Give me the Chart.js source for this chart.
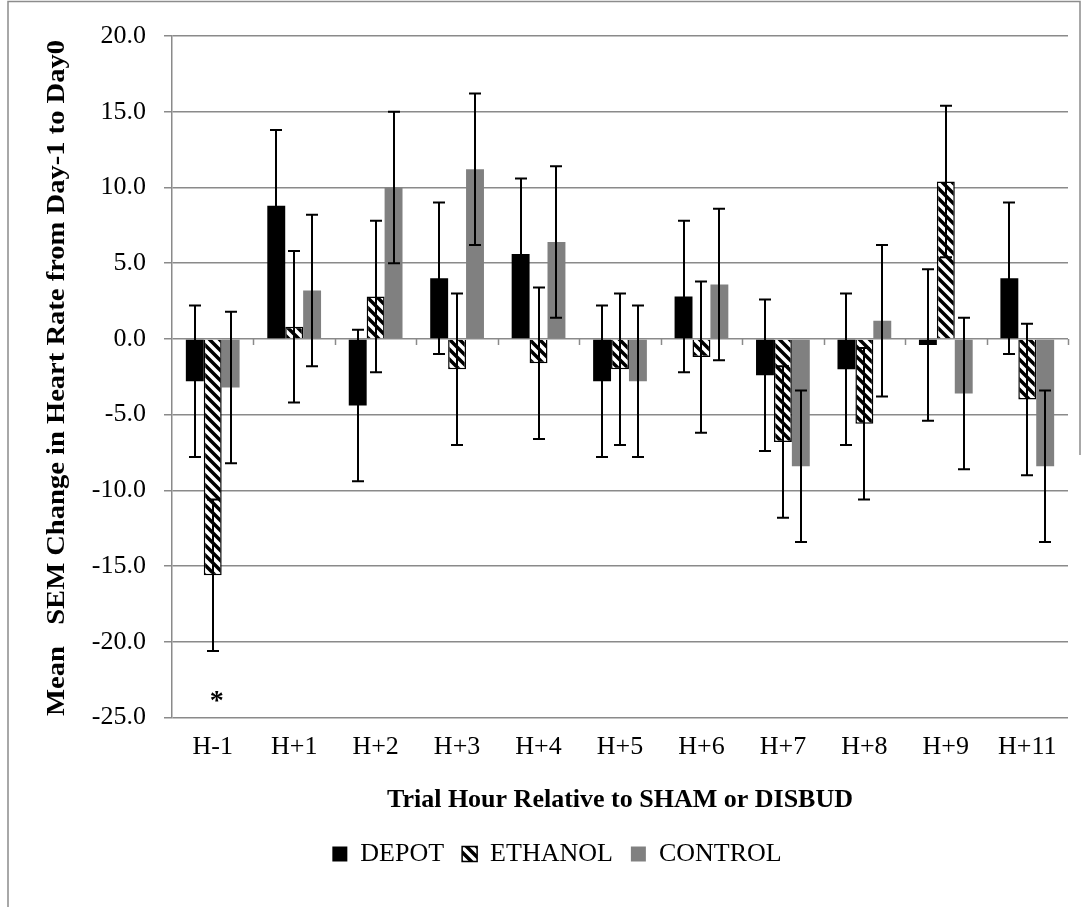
<!DOCTYPE html>
<html>
<head>
<meta charset="utf-8">
<script src="https://cdn.jsdelivr.net/npm/chart.js@4.4.1/dist/chart.umd.min.js"></script>
<style>
  html, body { margin: 0; padding: 0; background: #fff; }
  #wrap { width: 1086px; height: 907px; position: relative; }
</style>
</head>
<body>
<div id="wrap"><canvas id="myChart"></canvas></div>
<script>
// data
const hours = ['H-1', 'H+1', 'H+2', 'H+3', 'H+4', 'H+5', 'H+6', 'H+7', 'H+8', 'H+9', 'H+11'];
const depot   = [-2.8, 8.8, -4.4, 4.0, 5.6, -2.8, 2.8, -2.4, -2.0, -0.4, 4.0];
const ethanol = [-15.6, 0.8, 2.8, -2.0, -1.6, -2.0, -1.2, -6.8, -5.6, 10.4, -4.0];
const control = [-3.2, 3.2, 10.0, 11.2, 6.4, -2.8, 3.6, -8.4, 1.2, -3.6, -8.4];
const depotSem   = [5.0, 5.0, 5.0, 5.0, 5.0, 5.0, 5.0, 5.0, 5.0, 5.0, 5.0];
const ethanolSem = [5.0, 5.0, 5.0, 5.0, 5.0, 5.0, 5.0, 5.0, 5.0, 5.0, 5.0];
const controlSem = [5.0, 5.0, 5.0, 5.0, 5.0, 5.0, 5.0, 5.0, 5.0, 5.0, 5.0];
const yTicks = [-25, -20, -15, -10, -5, 0, 5, 10, 15, 20];
const marks = [{hour: 'H-1', series: 1, text: '*'}];

const xTitle = 'Trial Hour Relative to SHAM or DISBUD';
const yTitle = 'Mean   SEM Change in Heart Rate from Day-1 to Day0';

const serif = "'Liberation Serif', 'Times New Roman', serif";
const gridGray = '#8a8a8a';

function stripes(){
    const s = 10;
    const c = document.createElement('canvas');
    c.width = s; c.height = s;
    const g = c.getContext('2d');
    g.fillStyle = '#fff';
    g.fillRect(0, 0, s, s);
    g.strokeStyle = '#000';
    g.lineWidth = 3.5;
    g.beginPath();
    g.moveTo(0, 0); g.lineTo(s, s);
    g.moveTo(-s/2, s/2); g.lineTo(s/2, s*1.5);
    g.moveTo(s/2, -s/2); g.lineTo(s*1.5, s/2);
    g.stroke();
    return g.createPattern(c, 'repeat');
}

const sems = [depotSem, ethanolSem, controlSem];

const extras = {
    id: 'extras',
    afterDatasetsDraw(chart){
        const ctx = chart.ctx;
        const y = chart.scales.y;
        const area = chart.chartArea;
        ctx.save();
        // little ticks on the zero line between categories
        const zy = y.getPixelForValue(0);
        const step = (area.right - area.left) / hours.length;
        ctx.strokeStyle = gridGray;
        ctx.lineWidth = 1.5;
        ctx.beginPath();
        for (let k = 1; k <= hours.length; k++){
            const px = Math.round(area.left + step * k) + 0.5;
            ctx.moveTo(px, zy);
            ctx.lineTo(px, zy + 6);
        }
        ctx.stroke();

        // error bars
        ctx.strokeStyle = '#000';
        ctx.lineWidth = 2;
        chart.data.datasets.forEach((ds, di) => {
            const meta = chart.getDatasetMeta(di);
            meta.data.forEach((bar, i) => {
                const v = ds.data[i];
                const e = sems[di][i];
                const top = y.getPixelForValue(v + e);
                const bot = y.getPixelForValue(v - e);
                const bx = Math.round(bar.x);
                ctx.beginPath();
                ctx.moveTo(bx, top); ctx.lineTo(bx, bot);
                ctx.moveTo(bx - 6, top); ctx.lineTo(bx + 6, top);
                ctx.moveTo(bx - 6, bot); ctx.lineTo(bx + 6, bot);
                ctx.stroke();
            });
        });

        // significance marks
        ctx.fillStyle = '#000';
        ctx.font = 'bold 28px ' + serif;
        ctx.textAlign = 'center';
        ctx.textBaseline = 'top';
        marks.forEach(m => {
            const i = hours.indexOf(m.hour);
            const bar = chart.getDatasetMeta(m.series).data[i];
            const v = chart.data.datasets[m.series].data[i] - sems[m.series][i];
            ctx.fillText(m.text, bar.x + 4, y.getPixelForValue(v) + 37);
        });
        ctx.restore();
    },
    afterDraw(chart){
        const ctx = chart.ctx;
        ctx.save();
        // rotated, condensed y title
        ctx.font = 'bold 26px ' + serif;
        ctx.fillStyle = '#000';
        ctx.textAlign = 'center';
        ctx.textBaseline = 'middle';
        const w = ctx.measureText(yTitle).width;
        ctx.translate(57, 378);
        ctx.rotate(-Math.PI / 2);
        ctx.scale(676 / w, 1);
        ctx.fillText(yTitle, 0, 0);
        ctx.restore();

        // outer frame
        ctx.save();
        ctx.strokeStyle = '#8c8c8c';
        ctx.lineWidth = 1.5;
        ctx.beginPath();
        ctx.moveTo(8, 907); ctx.lineTo(8, 1.5); ctx.lineTo(1080, 1.5); ctx.lineTo(1080, 455);
        ctx.stroke();
        ctx.restore();
    }
};

function makeChart(){
    const ctx = document.getElementById('myChart');
    new Chart(ctx, {
        type: 'bar',
        data: {
            labels: hours,
            datasets: [
                { label: 'DEPOT', data: depot, backgroundColor: '#000', borderWidth: 0 },
                { label: 'ETHANOL', data: ethanol, backgroundColor: stripes(), borderColor: '#000', borderWidth: 1.5 },
                { label: 'CONTROL', data: control, backgroundColor: '#808080', borderWidth: 0 }
            ]
        },
        options: {
            responsive: true,
            maintainAspectRatio: false,
            animation: false,
            datasets: { bar: { categoryPercentage: 0.66, barPercentage: 1.0 } },
            layout: { padding: { left: 46, right: 18, top: 36, bottom: 30 } },
            plugins: {
                tooltip: { enabled: false },
                legend: {
                    position: 'bottom',
                    labels: {
                        font: { family: serif, size: 26 },
                        color: '#000',
                        boxWidth: 15,
                        boxHeight: 15,
                        padding: 18
                    }
                }
            },
            scales: {
                x: {
                    grid: { display: false, drawTicks: false },
                    border: { display: false },
                    ticks: { font: { family: serif, size: 26 }, color: '#000', padding: 14, maxRotation: 0 },
                    title: { display: true, text: xTitle, color: '#000', font: { family: serif, size: 26, weight: 'bold' }, padding: { top: 8, bottom: 7 } }
                },
                y: {
                    min: -25,
                    max: 20,
                    afterBuildTicks(scale){ scale.ticks = yTicks.map(v => ({ value: v })); },
                    afterFit(scale){ scale.width = 126; },
                    ticks: { callback: v => v.toFixed(1), font: { family: serif, size: 26 }, color: '#000', padding: 18 },
                    grid: { color: gridGray, lineWidth: 1.5, tickLength: 8 },
                    border: { display: true, color: gridGray, width: 1.5 }
                }
            }
        },
        plugins: [extras]
    });
}

makeChart();
</script>
</body>
</html>
